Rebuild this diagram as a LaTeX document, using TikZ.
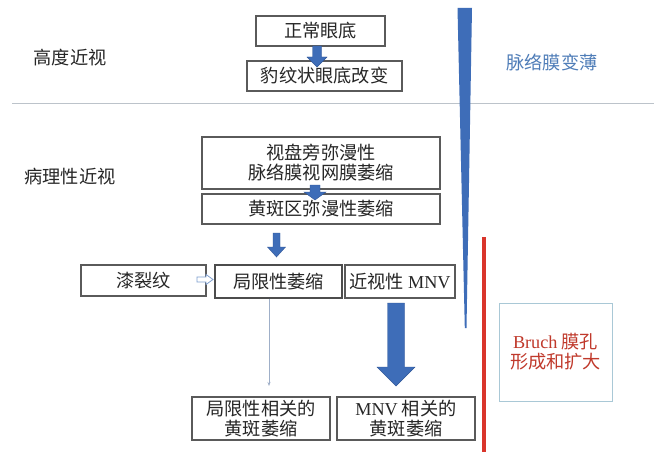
\documentclass[tikz,border=0pt]{standalone}
\usepackage{fontspec}
\usetikzlibrary{arrows.meta}
\setmainfont{Liberation Serif}
\newfontfamily\cjk{Noto Sans CJK SC}
\newcommand{\lat}[1]{{\rmfamily #1}}
\definecolor{boxline}{HTML}{5A5A5A}
\definecolor{arrblue}{HTML}{3E6DB8}
\definecolor{arrdark}{HTML}{2F5597}
\definecolor{txtblue}{HTML}{4F7DB8}
\definecolor{redline}{HTML}{D9352B}
\definecolor{redtxt}{HTML}{C0392B}
\definecolor{sepgray}{HTML}{BCC3CA}
\definecolor{lightframe}{HTML}{A9C8D6}
\definecolor{thinarrow}{HTML}{9FAFC8}
\definecolor{hollow}{HTML}{7F9FCF}
\tikzset{
  txt/.style={font=\cjk\fontsize{18.2}{20}\selectfont, text=black!85, inner sep=0pt, align=center},
  fbox/.style={txt, draw=boxline, line width=1.2pt, fill=white},
  blockarr/.style={fill=arrblue, draw=arrdark, line width=0.4pt},
}
\newcommand{\barrow}[7]{% x, ytop, ybase, ytip, shaft half, head half
  \fill[blockarr] (#1-#5,#2) -- (#1+#5,#2) -- (#1+#5,#3) -- (#1+#6,#3) -- (#1,#4) -- (#1-#6,#3) -- (#1-#5,#3) -- cycle;}
\begin{document}
\begin{tikzpicture}[x=1pt,y=-1pt]
\useasboundingbox (0,0) rectangle (654,452);
\fill[white] (0,0) rectangle (654,452);
% separator
\draw[sepgray, line width=1pt] (12,104) -- (654,104);
% labels
\node[txt] (l1) at (70,58) {高度近视};
\node[txt] (l2) at (70,177) {病理性近视};
\node[txt, text=txtblue] (l3) at (552,62) {脉络膜变薄};
% wedge
\fill[arrblue] (457.5,8) -- (472,8) -- (466.5,328) -- (464.8,328) -- cycle;
% red line
\draw[redline, line width=3.2pt] (484,237) -- (484,452);
% boxes
\node[fbox, minimum width=129pt, minimum height=30pt] (n1) at (320.5,31) {正常眼底};
\node[fbox, minimum width=155pt, minimum height=30pt] (n2) at (324.5,76) {豹纹状眼底改变};
\node[fbox, minimum width=238pt, minimum height=52pt] (n3) at (321,163) {视盘旁弥漫性\\脉络膜视网膜萎缩};
\node[fbox, minimum width=238pt, minimum height=30pt] (n4) at (321,209) {黄斑区弥漫性萎缩};
\node[fbox, minimum width=125pt, minimum height=31pt] (n5) at (143.5,280.5) {漆裂纹};
\node[fbox, draw=black!70, line width=1.5pt, minimum width=127pt, minimum height=33pt] (n6) at (278.5,281.5) {局限性萎缩};
\node[fbox, minimum width=110pt, minimum height=33pt] (n7) at (400,281.5) {近视性 \lat{MNV}};
\node[fbox, minimum width=138pt, minimum height=43pt] (n8) at (261,418.5) {局限性相关的\\黄斑萎缩};
\node[fbox, minimum width=138pt, minimum height=43pt] (n9) at (406,418.5) {\lat{MNV} 相关的\\黄斑萎缩};
\node[txt, draw=lightframe, line width=1pt, fill=white, minimum width=113pt, minimum height=98pt, text=redtxt] (n10) at (555.5,352) {\lat{Bruch} 膜孔\\形成和扩大};
% block arrows
\barrow{317}{46}{57}{67}{4.5}{10}{}
\barrow{315}{185}{192}{200}{5}{11}{}
\barrow{276.5}{233}{247}{257}{3.5}{9}{}
\barrow{396}{303}{367}{386}{8.5}{19}{}
% thin arrow
\draw[thinarrow, line width=0.6pt, -{Stealth[length=4pt,width=3pt]}] ([xshift=-9.5pt]n6.south) -- (269,386);
% hollow arrow
\draw[hollow, fill=white, line width=0.8pt] (197,277) -- (206,277) -- (206,274.5) -- (213,279.5) -- (206,284.5) -- (206,282) -- (197,282) -- cycle;
\end{tikzpicture}
\end{document}
